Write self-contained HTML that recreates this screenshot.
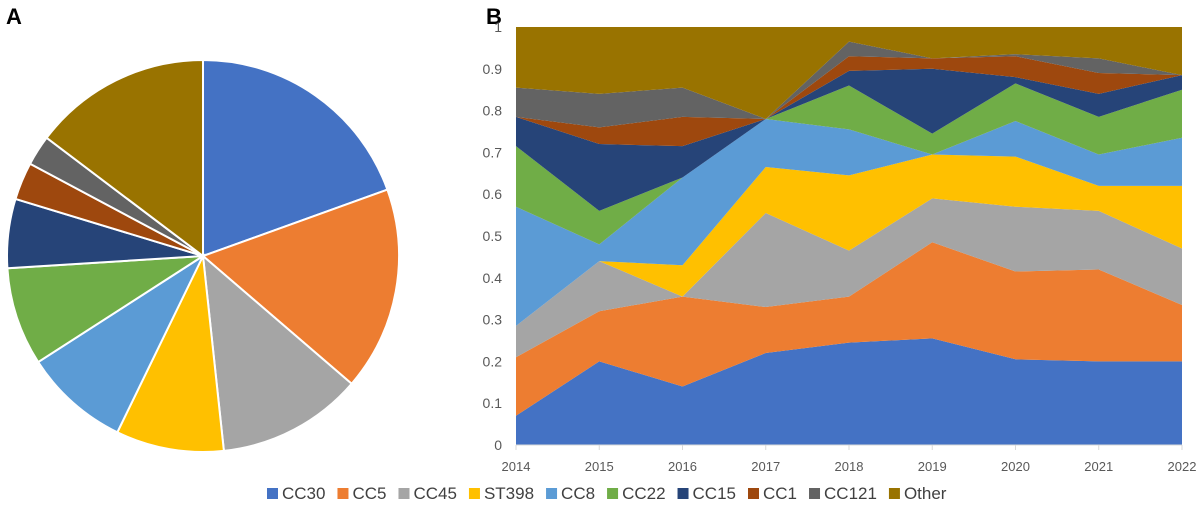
<!DOCTYPE html>
<html><head><meta charset="utf-8"><style>
body{margin:0;background:#fff;width:1200px;height:511px;overflow:hidden;font-family:"Liberation Sans",sans-serif}
svg{display:block}
</style></head><body>
<svg id="c" width="1200" height="511" viewBox="0 0 1200 511">
<text x="6" y="24" font-size="22" font-weight="bold" fill="#000">A</text>
<text x="486" y="24" font-size="22" font-weight="bold" fill="#000">B</text>
<g id="pie"></g>
<g id="area"></g>
<g id="axes"></g>
<g id="legend"></g>
</svg>
<script>
const series = ["CC30","CC5","CC45","ST398","CC8","CC22","CC15","CC1","CC121","Other"];
const colors = ["#4472C4","#ED7D31","#A5A5A5","#FFC000","#5B9BD5","#70AD47","#264478","#9E480E","#636363","#997300"];
const pieValues = [0.195,0.168,0.120,0.089,0.087,0.081,0.057,0.031,0.025,0.147];
const years = [2014,2015,2016,2017,2018,2019,2020,2021,2022];
const cc30 = [0.07,0.20,0.14,0.22,0.245,0.255,0.205,0.20,0.20];
const cc5 = [0.14,0.12,0.215,0.11,0.11,0.23,0.21,0.22,0.135];
const cc45 = [0.075,0.12,0,0.225,0.11,0.105,0.155,0.14,0.135];
const st398 = [0,0,0.075,0.11,0.18,0.105,0.12,0.06,0.15];
const cc8 = [0.285,0.04,0.21,0.115,0.11,0,0.085,0.075,0.115];
const cc22 = [0.145,0.08,0,0,0.105,0.05,0.09,0.09,0.115];
const cc15 = [0.07,0.16,0.075,0,0.035,0.155,0.015,0.055,0.035];
const cc1 = [0,0.04,0.07,0,0.035,0.025,0.05,0.05,0];
const cc121 = [0.07,0.08,0.07,0,0.035,0,0.005,0.035,0];
const other = [0.145,0.16,0.145,0.22,0.035,0.075,0.065,0.075,0.115];
const seriesData = [cc30,cc5,cc45,st398,cc8,cc22,cc15,cc1,cc121,other];
const yTicks = ["0","0.1","0.2","0.3","0.4","0.5","0.6","0.7","0.8","0.9","1"];
const NS="http://www.w3.org/2000/svg";
function mk(t,a,p){const e=document.createElementNS(NS,t);for(const k in a)e.setAttribute(k,a[k]);p.appendChild(e);return e;}
// pie
const pie=document.getElementById('pie');
const cx=203,cy=256,r=196;
let ang=0;const tot=pieValues.reduce((a,b)=>a+b,0);
pieValues.forEach((v,i)=>{
 const a0=ang,a1=ang+v/tot*2*Math.PI;ang=a1;
 const x0=cx+r*Math.sin(a0),y0=cy-r*Math.cos(a0),x1=cx+r*Math.sin(a1),y1=cy-r*Math.cos(a1);
 const p=mk('path',{d:`M${cx},${cy}L${x0},${y0}A${r},${r} 0 ${a1-a0>Math.PI?1:0} 1 ${x1},${y1}Z`,fill:colors[i],stroke:'#fff','stroke-width':2},pie);
 
 
});
// area
const X0=516,X1=1182,Y0=445,Y1=27;
const xs=i=>X0+(X1-X0)*i/(years.length-1);
const ys=v=>Y0-(Y0-Y1)*v;
const area=document.getElementById('area');
const cum=years.map(()=>0);
seriesData.forEach((s,k)=>{
 const lo=cum.slice();
 s.forEach((v,i)=>cum[i]+=v);
 const top=cum.map((v,i)=>`${xs(i)},${ys(Math.min(v,1))}`);
 const bot=lo.map((v,i)=>`${xs(i)},${ys(v)}`).reverse();
 const p=mk('polygon',{points:top.concat(bot).join(' '),fill:colors[k]},area);
 
 
});
// axes
const ax=document.getElementById('axes');
const xl=mk('line',{x1:X0,y1:Y0,x2:X1,y2:Y0,stroke:'#d9d9d9','stroke-width':1},ax);


yTicks.forEach((t,i)=>{
 const e=mk('text',{x:502,y:ys(i/10)+5,'font-size':14,fill:'#595959','text-anchor':'end'},ax);
 e.textContent=t;
 
 
});
years.forEach((y,i)=>{
 const tk=mk('line',{x1:xs(i),y1:Y0,x2:xs(i),y2:Y0+5,stroke:'#d9d9d9'},ax);
 
 
 const e=mk('text',{x:xs(i),y:471,'font-size':13,fill:'#595959','text-anchor':'middle'},ax);
 e.textContent=y;
 
 
});
// legend
const lg=document.getElementById('legend');
const lw=[54,48,56,66,48,56,56,46,64,50];
let lx=267;
series.forEach((s,i)=>{
 const g=mk('g',{},lg);
 
 
 mk('rect',{x:lx,y:488,width:11,height:11,fill:colors[i]},g);
 const t=mk('text',{x:lx+15,y:499,'font-size':17,fill:'#404040'},g);
 t.textContent=s;
 lx+=15+t.getComputedTextLength()+12;
});
</script>
</body></html>
